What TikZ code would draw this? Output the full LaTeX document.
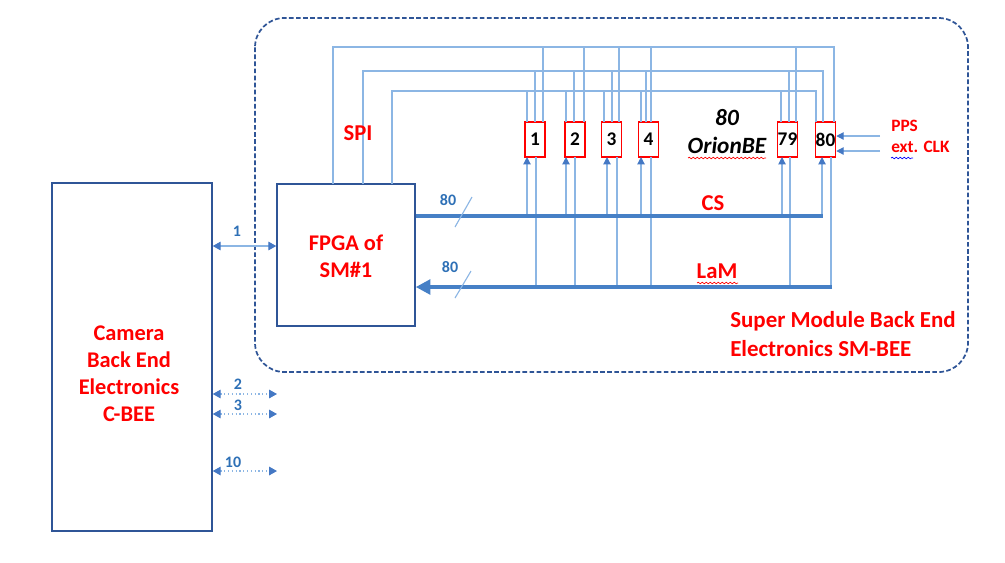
\documentclass[tikz,border=0pt]{standalone}
\usepackage{fontspec}
\setmainfont{Carlito}
\usetikzlibrary{arrows.meta,decorations.pathmorphing}
\definecolor{frameblue}{RGB}{47,85,151}
\definecolor{wireblue}{RGB}{140,182,228}
\definecolor{busblue}{RGB}{70,128,198}
\definecolor{lblblue}{RGB}{46,112,182}
\definecolor{tipblue}{RGB}{68,120,196}
\tikzset{
  bigbox/.style={draw=frameblue,line width=1.1pt,inner sep=0pt},
  obox/.style={draw=red,line width=1.1pt,inner sep=0pt,minimum width=15pt,minimum height=26.25pt,font=\fontsize{14.5}{16}\selectfont\bfseries},
  wire/.style={draw=wireblue,line width=0.85pt},
  tipw/.style={-{Triangle[length=5.5pt,width=5.5pt,color=tipblue]}},
  dtip/.style={{Triangle[length=6pt,width=6.5pt,color=tipblue]}-{Triangle[length=6pt,width=6.5pt,color=tipblue]}},
  bus/.style={draw=busblue,line width=3pt},
  bigtxt/.style={text=red,font=\fontsize{16.8}{20.3}\selectfont\bfseries,align=center,inner sep=0pt},
  midtxt/.style={text=red,font=\fontsize{17}{20}\selectfont\bfseries,inner sep=0pt},
  smalltxt/.style={text=red,font=\fontsize{13}{16}\selectfont\bfseries,inner sep=0pt,anchor=west},
  numtxt/.style={text=lblblue,font=\fontsize{12}{14}\selectfont\bfseries,inner sep=0pt},
  wavy/.style={decorate,decoration={snake,amplitude=0.6pt,segment length=3pt},line width=0.5pt}
}
\begin{document}
\begin{tikzpicture}[x=0.75pt,y=-0.75pt]
\useasboundingbox (0,0) rectangle (1005,562);
% SM-BEE dashed frame
\draw[frameblue,line width=1.3pt,dash pattern=on 3.5pt off 1.8pt,rounded corners=22pt] (255,18) rectangle (968,372);
% boxes
\node[bigbox,minimum width=120pt,minimum height=261pt] (cbee) at (132,357) {};
\node[bigtxt] (cbeet) at (129,374) {Camera\\Back End\\Electronics\\C-BEE};
\node[bigbox,minimum width=103.5pt,minimum height=106.5pt] (fpga) at (346,255) {};
\node[bigtxt] (fpgat) at (346,256) {FPGA of\\SM\#1};
% Orion boxes
\node[obox] (b1) at (535,139.5) {1};
\node[obox] (b2) at (575,139.5) {2};
\node[obox] (b3) at (611.5,139.5) {3};
\node[obox] (b4) at (648.5,139.5) {4};
\node[obox] (b79) at (787.5,139.5) {79};
\node[obox] (b80) at (825.5,139.5) {80};
% SPI loops
\coordinate (s1) at (333,184);
\coordinate (s2) at (363,184);
\coordinate (s3) at (392,184);
\draw[wire] (s1) -- (333,47) -- (834,47) -- (834,122);
\draw[wire] (s2) -- (363,71) -- (823,71) -- (823,122);
\draw[wire] (s3) -- (392,91) -- (816,91) -- (816,122);
% drops into boxes
\foreach \l/\m/\r in {527/535/543, 566/574/584, 604/612/619, 641/646/651, 781/789/796}{
  \draw[wire] (\l,91) -- (\l,122);
  \draw[wire] (\m,71) -- (\m,122);
  \draw[wire] (\r,47) -- (\r,122);
}
% CS arrows and LaM lines
\foreach \a/\b in {527/536, 566/575, 607/617, 641/651, 782/790, 822/831}{
  \draw[wire,tipw] (\a,216) -- (\a,157);
  \draw[wire] (\b,157) -- (\b,287);
}
% buses
\draw[bus] (fpga.east |- 0,216) -- (823,216);
\draw[bus,-{Triangle[length=11pt,width=11pt]}] (832,287) -- (fpga.east |- 0,287);
\draw[wire] (472,197) -- (455,227);
\draw[wire] (471,271) -- (455,298);
\node[numtxt] (n80a) at (448,200) {80};
\node[numtxt] (n80b) at (450,267) {80};
\node[midtxt] (cs) at (713,203) {CS};
\node[midtxt] (lam) at (717,271) {LaM};
\draw[red,wavy] (697,283) -- (738,283);
\node[midtxt] (spi) at (358,133) {SPI};
% 80 OrionBE
\node[font=\fontsize{17.5}{21}\selectfont\bfseries\itshape,align=center,inner sep=0pt] (orion) at (727,132) {80\\OrionBE};
\draw[red,wavy] (688,158) -- (766,158);
% PPS / ext CLK
\draw[wire,tipw] (880,136) -- (b80.east |- 0,136);
\draw[wire,tipw] (880,151) -- (b80.east |- 0,151);
\node[smalltxt] (pps) at (891,126) {PPS};
\node[smalltxt] (clk) at (891,147) {ext. CLK};
\draw[blue,wavy] (891,158) -- (913,158);
% SM-BEE label
\node[text=red,font=\fontsize{17.2}{21.5}\selectfont\bfseries,align=left,anchor=west,inner sep=0pt] (smbee) at (730,334) {Super Module Back End\\Electronics SM-BEE};
% C-BEE links
\draw[wire,dtip] (cbee.east |- 0,246) -- (fpga.west |- 0,246);
\node[numtxt] (l1) at (237,231) {1};
\coordinate (e2) at (277,394);
\coordinate (e3) at (277,414);
\coordinate (e10) at (277,471);
\draw[wire,dotted,dtip] (cbee.east |- e2) -- (e2);
\draw[wire,dotted,dtip] (cbee.east |- e3) -- (e3);
\draw[wire,dotted,dtip] (cbee.east |- e10) -- (e10);
\node[numtxt] (l2) at (238,384) {2};
\node[numtxt] (l3) at (238,405) {3};
\node[numtxt] (l10) at (233,462) {10};
\end{tikzpicture}
\end{document}
